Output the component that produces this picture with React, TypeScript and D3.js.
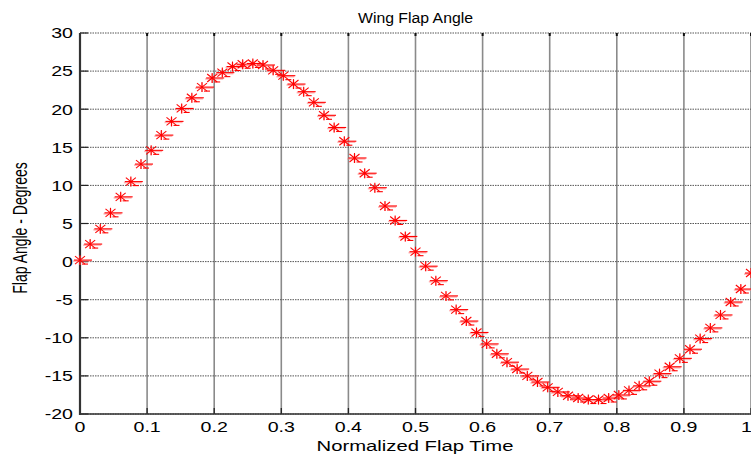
import React from "react";
import * as d3 from "d3";

const flapAngle: number[] = [
  0.2, 2.3, 4.3, 6.4, 8.5, 10.5, 12.8, 14.6, 16.6, 18.4,
  20.1, 21.5, 22.9, 24.1, 24.8, 25.6, 25.9, 26.0, 25.8, 25.1,
  24.4, 23.3, 22.3, 20.9, 19.2, 17.6, 15.8, 13.6, 11.6, 9.7,
  7.3, 5.4, 3.3, 1.3, -0.6, -2.5, -4.5, -6.3, -7.8, -9.3,
  -10.8, -12.1, -13.2, -14.1, -15.0, -15.8, -16.5, -17.1, -17.6, -17.9,
  -18.1, -18.1, -17.9, -17.5, -16.9, -16.3, -15.7, -14.7, -13.8, -12.7,
  -11.5, -10.1, -8.7, -7.0, -5.3, -3.6, -1.5,
];
const flapTime: number[] = flapAngle.map((_, i) => i / (flapAngle.length - 1));

const xTicks: number[] = [0, 0.1, 0.2, 0.3, 0.4, 0.5, 0.6, 0.7, 0.8, 0.9, 1];
const xTickLabels: string[] = ["0", "0.1", "0.2", "0.3", "0.4", "0.5", "0.6", "0.7", "0.8", "0.9", "1"];
const yTicks: number[] = [-20, -15, -10, -5, 0, 5, 10, 15, 20, 25, 30];

const titleText = "Wing Flap Angle";
const xLabelText = "Normalized Flap Time";
const yLabelText = "Flap Angle - Degrees";

const W = 751;
const H = 455;
const L = 80;
const R = 751;
const T = 33;
const B = 414;
const FONT = "'Liberation Sans', Arial, sans-serif";
const SX = 1.4;

export default function App() {
  const x = d3.scaleLinear().domain([0, 1]).range([L, R]);
  const y = d3.scaleLinear().domain([-20, 30]).range([B, T]);
  const red = "#ff0000";

  return (
    <div style={{ position: "fixed", left: 0, top: 0, background: "#fff" }}>
      <svg width={W} height={H} style={{ display: "block" }}>
        <rect x={0} y={0} width={W} height={H} fill="#fff" />
        {/* vertical grid */}
        {xTicks.slice(1).map((t) => (
          <line key={"vg" + t} x1={x(t)} x2={x(t)} y1={T} y2={B} stroke="#8a8a8a" strokeWidth={1.6} />
        ))}
        {/* horizontal grid */}
        {yTicks.map((t) => (
          <line key={"hg" + t} x1={L} x2={R} y1={y(t)} y2={y(t)} stroke="#555" strokeWidth={1} strokeDasharray="1.5,1" />
        ))}
        {/* ticks */}
        {xTicks.map((t) => (
          <g key={"xt" + t}>
            <line x1={x(t)} x2={x(t)} y1={B} y2={B - 6} stroke="#222" strokeWidth={1.3} />
            <line x1={x(t)} x2={x(t)} y1={T} y2={T + 3} stroke="#111" strokeWidth={2} />
          </g>
        ))}
        {yTicks.map((t) => (
          <line key={"yt" + t} x1={L} x2={L + 8} y1={y(t)} y2={y(t)} stroke="#222" strokeWidth={1.2} />
        ))}
        {/* axes */}
        <line x1={L} x2={R} y1={B} y2={B} stroke="#333" strokeWidth={1.6} />
        <line x1={L} x2={L} y1={T} y2={B + 1} stroke="#333" strokeWidth={2.2} />
        {/* markers */}
        {flapAngle.map((v, i) => {
          const cx = x(flapTime[i]);
          const cy = y(v);
          return (
            <g key={"m" + i} transform={`translate(${cx},${cy})`}>
              <g stroke="#ff8080" strokeWidth={1.6} opacity={0.6}>
                <line x1={-7} x2={11} y1={1} y2={1} />
                <line x1={0} x2={0} y1={-4} y2={5} />
              </g>
              <g stroke={red} strokeWidth={1.1}>
                <line x1={-6} x2={12} y1={0} y2={0} />
                <line x1={0} x2={0} y1={-5} y2={5} />
                <line x1={-5} x2={5} y1={-4} y2={4} />
                <line x1={-5} x2={5} y1={4} y2={-4} />
                <line x1={2} x2={8} y1={4} y2={4} />
              </g>
            </g>
          );
        })}
        {/* tick labels */}
        {xTicks.map((t, i) => {
          const last = i === xTicks.length - 1;
          return (
            <text
              key={"xl" + t}
              transform={`translate(${last ? x(t) + 1 : x(t)},432) scale(${SX},1)`}
              textAnchor={last ? "end" : "middle"}
              fontFamily={FONT}
              fontSize={14}
              fill="#000"
            >
              {xTickLabels[i]}
            </text>
          );
        })}
        {yTicks.map((t) => (
          <text
            key={"yl" + t}
            transform={`translate(73,${y(t) + 5.3}) scale(${SX},1)`}
            textAnchor="end"
            fontFamily={FONT}
            fontSize={14}
            fill="#000"
          >
            {String(t)}
          </text>
        ))}
        {/* title */}
        <text
          x={(L + R) / 2}
          y={23}
          textAnchor="middle"
          fontFamily={FONT}
          fontSize={14}
          textLength={115}
          lengthAdjust="spacingAndGlyphs"
          fill="#000"
        >
          {titleText}
        </text>
        {/* x label */}
        <text
          x={415}
          y={451}
          textAnchor="middle"
          fontFamily={FONT}
          fontSize={14}
          textLength={197}
          lengthAdjust="spacingAndGlyphs"
          fill="#000"
        >
          {xLabelText}
        </text>
        {/* y label */}
        <text
          transform={`translate(27,228) scale(${SX},1) rotate(-90)`}
          textAnchor="middle"
          fontFamily={FONT}
          fontSize={14}
          fill="#000"
        >
          {yLabelText}
        </text>
      </svg>
    </div>
  );
}
